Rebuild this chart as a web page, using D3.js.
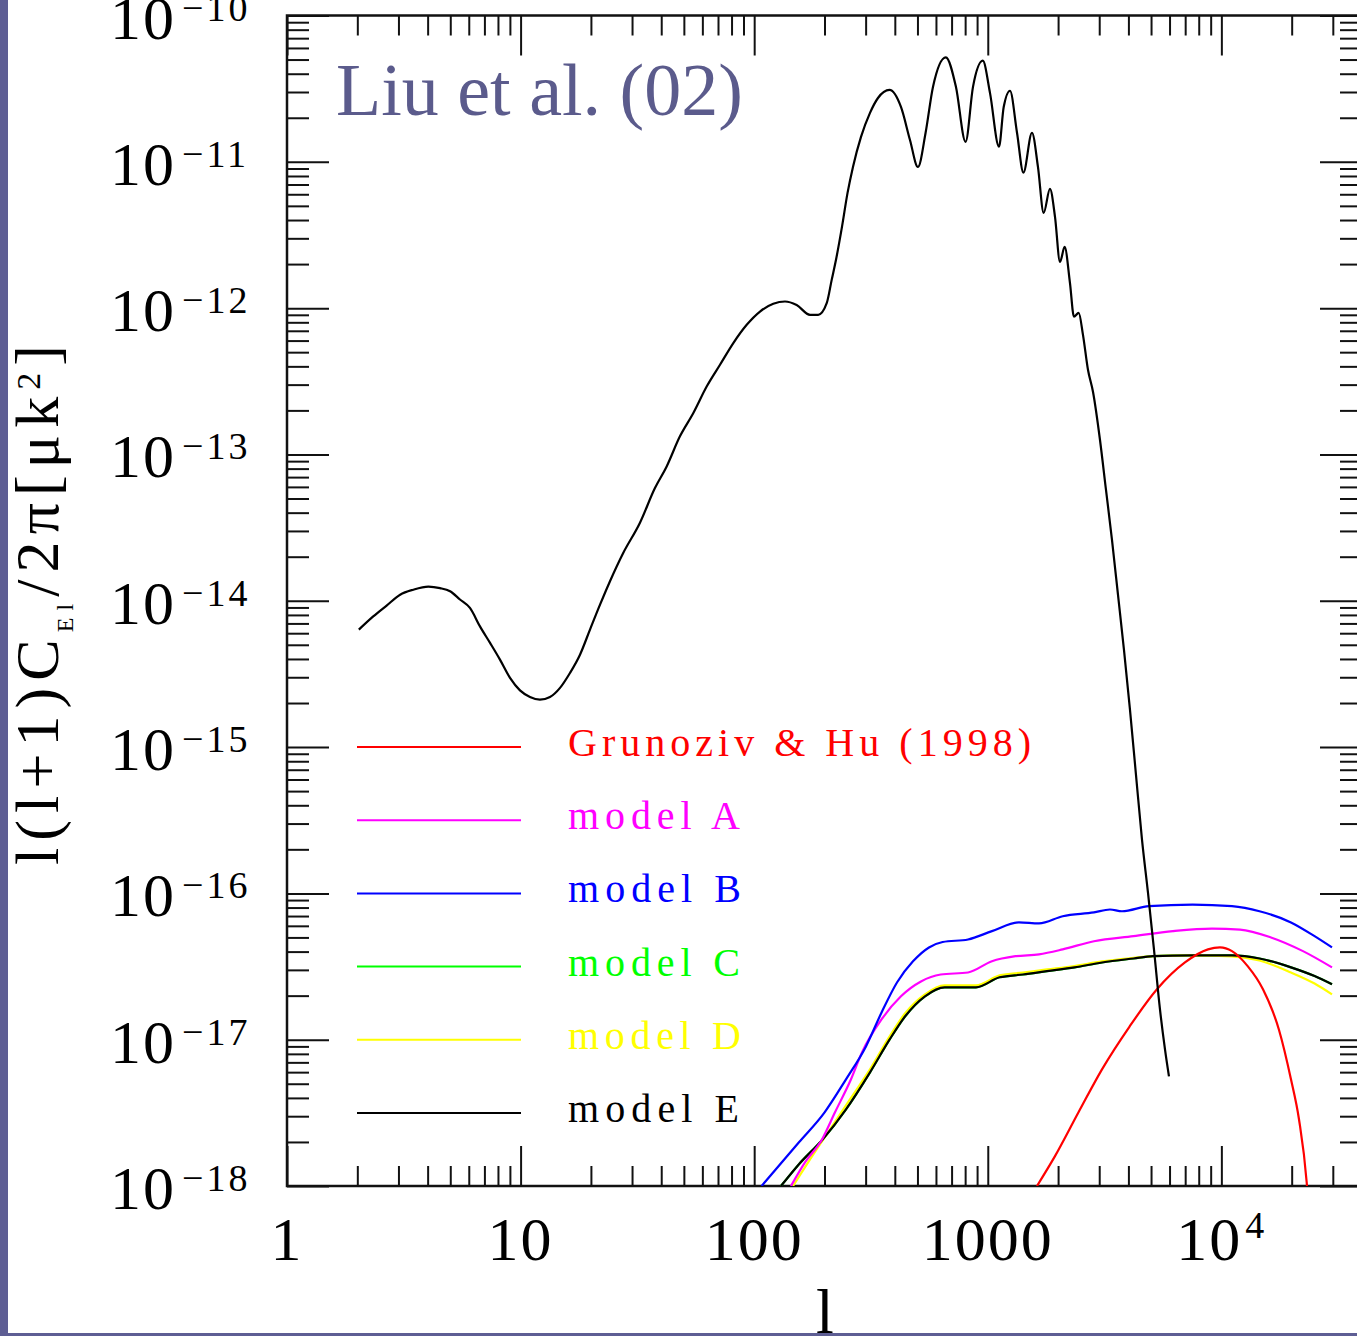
<!DOCTYPE html>
<html>
<head>
<meta charset="utf-8">
<script src="https://cdnjs.cloudflare.com/ajax/libs/d3/7.8.5/d3.min.js"></script>
<style>
  body { margin: 0; background: #fff; }
  svg { display: block; }
</style>
</head>
<body>
<div id="chart"></div>
<script>
// E-mode spectrum with the model curves, Liu et al. (02)

// primary E-mode spectrum (black)
const cmbL = [2.03, 2.34, 2.67, 3.05, 3.47, 4.03, 4.52, 4.99, 5.50, 6.07, 6.70, 7.40, 8.16, 9.01, 9.94, 10.97, 12.1, 13.36, 14.75, 16.27,
  17.96, 19.82, 21.88, 24.14, 27.5, 32.4, 37.6, 42.2, 48.1, 54.9, 62.6, 71.4, 81.4, 92.9, 105.9, 120.7, 135.5, 152, 173.4, 188,
  204.4, 214.7, 224, 237.6, 251, 264.8, 286.6, 313.2, 338.8, 379.6, 425, 464.5, 502.5, 541.8, 582.6, 661, 730.9, 803.5, 864.4, 952,
  1022, 1117, 1170, 1245, 1334, 1421, 1546, 1640, 1735, 1846, 1940, 2038, 2133, 2248, 2339, 2450, 2556, 2685, 2821, 3022,
  3206, 3402, 3609, 3828, 4062, 4309, 4573, 4851, 5146, 5460, 5737, 5966]
const cmbC = [6.35e-15, 7.82e-15, 9.27e-15, 1.10e-14, 1.19e-14, 1.25e-14, 1.22e-14, 1.16e-14, 1.02e-14, 8.93e-15,
  6.68e-15, 5.15e-15, 3.96e-15, 2.97e-15, 2.44e-15, 2.20e-15, 2.11e-15, 2.20e-15, 2.54e-15, 3.21e-15,
  4.28e-15, 6.35e-15, 9.40e-15, 1.36e-14, 2.12e-14, 3.40e-14, 5.89e-14, 8.28e-14, 1.33e-13, 1.92e-13,
  2.91e-13, 4.10e-13, 5.77e-13, 7.69e-13, 9.48e-13, 1.07e-12, 1.11e-12, 1.05e-12, 9.00e-13, 9.00e-13,
  1.08e-12, 1.56e-12, 2.14e-12, 3.59e-12, 6.13e-12, 9.23e-12, 1.48e-11, 2.16e-11, 2.73e-11, 3.10e-11,
  2.37e-11, 1.41e-11, 9.23e-12, 1.58e-11, 3.25e-11, 5.18e-11, 3.25e-11, 1.37e-11, 3.25e-11, 4.91e-11,
  2.96e-11, 1.27e-11, 2.37e-11, 3.06e-11, 1.58e-11, 8.44e-12, 1.58e-11, 9.23e-12, 4.48e-12, 6.53e-12,
  4.21e-12, 2.07e-12, 2.62e-12, 1.49e-12, 8.73e-13, 9.29e-13, 6.57e-13, 3.79e-13, 2.68e-13, 1.26e-13,
  5.74e-14, 2.61e-14, 1.10e-14, 4.63e-15, 1.80e-15, 6.49e-16, 2.33e-16, 1.01e-16, 4.14e-17, 1.61e-17,
  8.59e-18, 5.61e-18]

// Grunoziv & Hu (1998)
const gruL = [1624, 1940, 2446, 3083, 4046, 5300, 6985, 8762, 9863, 11103, 12960, 15070, 17640, 19860, 21490, 23190, 23490]
const gruC = [1.0e-18, 1.60e-18, 3.19e-18, 6.27e-18, 1.23e-17, 2.21e-17, 3.37e-17, 4.14e-17, 4.27e-17, 4.03e-17,
  3.18e-17, 2.21e-17, 1.17e-17, 5.36e-18, 2.86e-18, 1.06e-18, 8.1e-19]

const modelAL = [143.7, 165.0, 195.1, 221.8, 259.7, 289.4, 351.4, 425.0, 517.6, 628.7, 823.0, 1042, 1314, 1657, 2093,
  2849, 4205, 6206, 9117, 12015, 16310, 22360, 29760]
const modelAC = [1.0e-18, 1.45e-18, 2.08e-18, 3.19e-18, 5.36e-18, 8.19e-18, 1.38e-17, 1.98e-17, 2.50e-17, 2.79e-17,
  2.88e-17, 3.44e-17, 3.72e-17, 3.83e-17, 4.14e-17, 4.71e-17, 5.10e-17, 5.52e-17, 5.75e-17, 5.66e-17,
  5.00e-17, 4.03e-17, 3.12e-17]

const modelBL = [107.6, 155.5, 200.2, 247.2, 301.0, 351.4, 408.6, 478.5, 560.2, 641.2, 823.0, 1042, 1360, 1657, 2093,
  2849, 3335, 3754, 4898, 7528, 11103, 14560, 19860, 25060, 29760]
const modelBC = [1.0e-18, 1.99e-18, 3.19e-18, 5.36e-18, 9.00e-18, 1.54e-17, 2.46e-17, 3.43e-17, 4.27e-17, 4.65e-17,
  4.84e-17, 5.52e-17, 6.33e-17, 6.23e-17, 6.98e-17, 7.41e-17, 7.76e-17, 7.55e-17, 8.18e-17, 8.39e-17,
  8.18e-17, 7.55e-17, 6.33e-17, 5.10e-17, 4.27e-17]

const modelEL = [130.2, 155.5, 196.3, 247.2, 313.2, 379.6, 442.1, 538.4, 653.3, 890.2, 1124, 1415, 1792, 2350, 3083,
  4205, 5095, 7528, 11103, 14560, 19860, 25060, 29760]
const modelEC = [1.0e-18, 1.41e-18, 2.08e-18, 3.34e-18, 5.98e-18, 1.00e-17, 1.44e-17, 1.98e-17, 2.28e-17, 2.28e-17,
  2.67e-17, 2.79e-17, 2.94e-17, 3.12e-17, 3.37e-17, 3.59e-17, 3.72e-17, 3.77e-17, 3.77e-17, 3.59e-17,
  3.12e-17, 2.72e-17, 2.39e-17]

// model C is not visible in the figure: it sits under model E
const modelCL = [130.2, 155.5, 196.3, 247.2, 313.2, 379.6, 442.1, 538.4, 653.3, 890.2, 1124, 1415, 1792, 2350, 3083,
  4205, 5095, 7528, 11103, 14560, 19860, 25060, 29760]
const modelCC = [1.0e-18, 1.41e-18, 2.08e-18, 3.34e-18, 5.98e-18, 1.00e-17, 1.44e-17, 1.98e-17, 2.28e-17, 2.28e-17,
  2.67e-17, 2.79e-17, 2.94e-17, 3.12e-17, 3.37e-17, 3.59e-17, 3.72e-17, 3.77e-17, 3.77e-17, 3.59e-17,
  3.12e-17, 2.72e-17, 2.39e-17]

const modelDL = [146.6, 173.4, 211.1, 257.1, 313.2, 379.6, 442.1, 538.4, 653.3, 890.2, 1124, 1415, 1792, 2350, 3083,
  4205, 5095, 7528, 11103, 14560, 19860, 25060, 29760]
const modelDC = [1.0e-18, 1.52e-18, 2.44e-18, 3.91e-18, 6.27e-18, 1.05e-17, 1.51e-17, 2.04e-17, 2.35e-17, 2.35e-17,
  2.75e-17, 2.88e-17, 3.02e-17, 3.19e-17, 3.43e-17, 3.62e-17, 3.72e-17, 3.77e-17, 3.71e-17, 3.48e-17,
  2.88e-17, 2.42e-17, 2.04e-17]

const legendNames = ["Grunoziv & Hu (1998)", "model A", "model B", "model C", "model D", "model E"]
const legendColors = ["#ff0000", "#ff00ff", "#0000ff", "#00ff00", "#ffff00", "#000000"]
const legendWidths = [463, 172, 173, 172, 173, 171]

const xMajor = [1, 10, 100, 1000, 10000]
const xTickLabels = [["1", ""], ["10", ""], ["100", ""], ["1000", ""], ["10", "4"]]
const yExponents = [-10, -11, -12, -13, -14, -15, -16, -17, -18]

const width = 1357
const height = 1336
const plotLeft = 287, plotRight = 1362, plotTop = 15.5, plotBottom = 1186
const serif = "'Liberation Serif', 'Times New Roman', serif"

const svg = d3.select("#chart").append("svg")
  .attr("width", width)
  .attr("height", height)

svg.append("rect").attr("width", width).attr("height", height).attr("fill", "#fff")

// slide background strips
svg.append("rect").attr("x", 0).attr("y", 0).attr("width", 8).attr("height", height).attr("fill", "#5e5e94")
svg.append("rect").attr("x", 0).attr("y", 1333).attr("width", width).attr("height", 3).attr("fill", "#5e5e94")

const xScale = d3.scaleLog().domain([1, 4e4]).range([plotLeft, plotRight])
const yScale = d3.scaleLog().domain([1e-18, 1e-10]).range([plotBottom, plotTop])

// minor ticks
const xMinor = []
for (let d = 0; d <= 4; d++) {
  for (let k = 2; k <= 9; k++) {
    const v = k * Math.pow(10, d)
    if (v < 4e4) xMinor.push(v)
  }
}
const yMajor = yExponents.map(e => Math.pow(10, e))
const yMinor = []
for (let e = -18; e < -10; e++) {
  for (let k = 2; k <= 9; k++) yMinor.push(k * Math.pow(10, e))
}

function styleAxis(g) {
  g.select(".domain").remove()
  g.selectAll(".tick line").attr("stroke", "#111").attr("stroke-width", 2)
  g.selectAll(".tick text").remove()
}

const axes = svg.append("g").attr("class", "axes")
axes.append("g").attr("transform", "translate(0," + plotBottom + ")")
  .call(d3.axisBottom(xScale).tickValues(xMajor).tickSize(-40).tickFormat("")).call(styleAxis)
axes.append("g").attr("transform", "translate(0," + plotBottom + ")")
  .call(d3.axisBottom(xScale).tickValues(xMinor).tickSize(-20).tickFormat("")).call(styleAxis)
axes.append("g").attr("transform", "translate(0," + plotTop + ")")
  .call(d3.axisTop(xScale).tickValues(xMajor).tickSize(-40).tickFormat("")).call(styleAxis)
axes.append("g").attr("transform", "translate(0," + plotTop + ")")
  .call(d3.axisTop(xScale).tickValues(xMinor).tickSize(-20).tickFormat("")).call(styleAxis)
axes.append("g").attr("transform", "translate(" + plotLeft + ",0)")
  .call(d3.axisLeft(yScale).tickValues(yMajor).tickSize(-42).tickFormat("")).call(styleAxis)
axes.append("g").attr("transform", "translate(" + plotLeft + ",0)")
  .call(d3.axisLeft(yScale).tickValues(yMinor).tickSize(-22).tickFormat("")).call(styleAxis)
axes.append("g").attr("transform", "translate(" + plotRight + ",0)")
  .call(d3.axisRight(yScale).tickValues(yMajor).tickSize(-42).tickFormat("")).call(styleAxis)
axes.append("g").attr("transform", "translate(" + plotRight + ",0)")
  .call(d3.axisRight(yScale).tickValues(yMinor).tickSize(-22).tickFormat("")).call(styleAxis)

svg.append("rect")
  .attr("x", plotLeft).attr("y", plotTop)
  .attr("width", plotRight - plotLeft).attr("height", plotBottom - plotTop)
  .attr("fill", "none").attr("stroke", "#111").attr("stroke-width", 2.5)

// y tick labels
const yLab = svg.append("g").attr("font-family", serif).attr("fill", "#000")
yExponents.forEach(e => {
  const y = yScale(Math.pow(10, e))
  yLab.append("text").attr("x", 110).attr("y", y + 23)
    .attr("font-size", 62).attr("letter-spacing", 2).text("10")
  yLab.append("text").attr("x", 182).attr("y", y + 5)
    .attr("font-size", 38).attr("letter-spacing", 3).text("\u2212" + Math.abs(e))
})

// x tick labels
const xLab = svg.append("g").attr("font-family", serif).attr("fill", "#000")
xMajor.forEach((v, i) => {
  const t = xLab.append("text").attr("x", xScale(v)).attr("y", 1260)
    .attr("text-anchor", "middle").attr("font-size", 62).attr("letter-spacing", 2)
  t.append("tspan").text(xTickLabels[i][0])
  if (xTickLabels[i][1]) {
    t.append("tspan").attr("font-size", 38).attr("dy", -22).attr("dx", 3).text(xTickLabels[i][1])
  }
})

// axis titles
svg.append("text")
  .attr("x", 825).attr("y", 1333)
  .attr("text-anchor", "middle")
  .attr("font-family", serif).attr("font-size", 64)
  .text("l")

const yTitle = svg.append("text")
  .attr("transform", "translate(58,605) rotate(-90)")
  .attr("text-anchor", "middle")
  .attr("font-family", serif).attr("font-size", 62)
  .attr("textLength", 520).attr("lengthAdjust", "spacing")
yTitle.append("tspan").text("l(l+1)C")
yTitle.append("tspan").attr("font-size", 24).attr("dy", 15).text("El")
yTitle.append("tspan").attr("dy", -15).text("/2\u03c0[\u03bck")
yTitle.append("tspan").attr("font-size", 34).attr("dy", -18).text("2")
yTitle.append("tspan").attr("dy", 18).text("]")

// curves
svg.append("clipPath").attr("id", "plot-clip")
  .append("rect").attr("x", plotLeft).attr("y", plotTop).attr("width", plotRight - plotLeft).attr("height", plotBottom - plotTop)

const line = d3.line()
  .x(d => xScale(d[0]))
  .y(d => yScale(d[1]))
  .curve(d3.curveMonotoneX)

const series = [
  { l: modelCL, c: modelCC, color: "#00ff00" },
  { l: modelDL, c: modelDC, color: "#ffff00" },
  { l: modelEL, c: modelEC, color: "#000000" },
  { l: modelAL, c: modelAC, color: "#ff00ff" },
  { l: modelBL, c: modelBC, color: "#0000ff" },
  { l: gruL, c: gruC, color: "#ff0000" },
  { l: cmbL, c: cmbC, color: "#000000" }
]

svg.append("g").attr("clip-path", "url(#plot-clip)")
  .selectAll("path")
  .data(series).enter()
  .append("path")
    .attr("d", s => line(d3.zip(s.l, s.c)))
    .attr("fill", "none")
    .attr("stroke", s => s.color)
    .attr("stroke-width", 2.2)

// legend
const legend = svg.append("g").attr("class", "legend")
legendNames.forEach((name, i) => {
  const y = 747 + i * 73.2
  legend.append("line")
    .attr("x1", 357).attr("x2", 521).attr("y1", y).attr("y2", y)
    .attr("stroke", legendColors[i]).attr("stroke-width", 2)
  legend.append("text")
    .attr("x", 568).attr("y", y + 9)
    .attr("font-family", serif).attr("font-size", 40)
    .attr("fill", legendColors[i])
    .attr("textLength", legendWidths[i]).attr("lengthAdjust", "spacing")
    .text(name)
})

// title inside the plot
svg.append("text")
  .attr("x", 336).attr("y", 115)
  .attr("font-family", serif).attr("font-size", 74)
  .attr("fill", "#5b5b8c")
  .text("Liu et al. (02)")
</script>
</body>
</html>
